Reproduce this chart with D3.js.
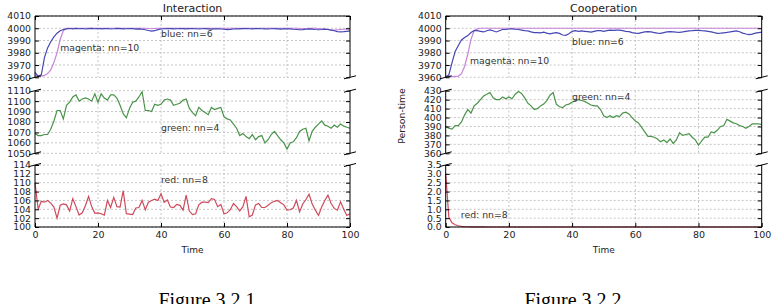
<!DOCTYPE html>
<html>
<head>
<meta charset="utf-8">
<script src="https://cdn.jsdelivr.net/npm/d3@7"></script>
<style>
  body { margin: 0; background: #fff; }
  text { font-family: "DejaVu Sans", sans-serif; }
</style>
</head>
<body>
<div id="chart"></div>
<script>
// time steps (x axis)
const timeSteps = d3.range(0, 101);
const xTicks = [0, 20, 40, 60, 80, 100];

// y ticks for each stacked subplot
const topTicks = [3960, 3970, 3980, 3990, 4000, 4010];
const intMidTicks = [1050, 1060, 1070, 1080, 1090, 1100, 1110];
const intBotTicks = [100, 102, 104, 106, 108, 110, 112, 114];
const coopMidTicks = [360, 370, 380, 390, 400, 410, 420, 430];
const coopBotTicks = [0, 0.5, 1, 1.5, 2, 2.5, 3, 3.5];

// Interaction series
const intBlue = [3964, 3961, 3962, 3976, 3984, 3989, 3993, 3996, 3998, 3999, 3999.5,
  3999.8, 3999.5, 3999.9, 3999.6, 3999.8, 3999.4, 3999.7, 3999.9, 3999.6, 3999.8,
  3999.5, 3999.7, 3999.8, 3999.4, 3999.6, 3999.9, 3999.7, 3999.5, 3999.6, 3999.8,
  3999.7, 3999.3, 3999.5, 3999.2, 3998.8, 3998.2, 3997.6, 3998, 3998.9, 3999.4,
  3999.6, 3999.8, 3999.7, 3999.5, 3999.6, 3999.8, 3999.7, 3999.5, 3999.7, 3999.8,
  3999.6, 3999.4, 3999.6, 3999.7, 3999.5, 3999.3, 3999.5, 3999.6, 3999.4, 3999.2,
  3998.9, 3999.1, 3999.4, 3999.6, 3999.5, 3999.7, 3999.8, 3999.6, 3999.5, 3999.7,
  3999.8, 3999.6, 3999.5, 3999.4, 3999.6, 3999.7, 3999.5, 3999.3, 3999.5, 3999.6,
  3999.5, 3999.2, 3999, 3998.8, 3998.9, 3999.2, 3999.5, 3999.3, 3999, 3998.8,
  3999, 3999.3, 3999, 3998.5, 3998, 3997.3, 3997, 3997.2, 3997.5, 3997.8];
const intMagenta = [3962, 3961, 3961, 3961.5, 3963, 3966, 3972, 3980, 3991, 3998, 4000,
  4000, 4000, 4000, 4000, 4000, 4000, 4000, 4000, 4000, 4000,
  4000, 4000, 4000, 4000, 4000, 4000, 4000, 4000, 4000, 4000,
  4000, 4000, 4000, 4000, 4000, 3999.8, 3999.6, 3999.8, 4000, 4000,
  4000, 4000, 4000, 4000, 4000, 4000, 4000, 4000, 4000, 4000,
  4000, 4000, 4000, 4000, 4000, 4000, 4000, 4000, 4000, 4000,
  4000, 4000, 4000, 4000, 4000, 4000, 4000, 4000, 4000, 4000,
  4000, 4000, 4000, 4000, 4000, 4000, 4000, 4000, 4000, 4000,
  4000, 4000, 4000, 3999.8, 3999.6, 3999.8, 4000, 4000, 4000, 3999.8,
  3999.6, 3999.3, 3999, 3998.6, 3998.5, 3998.8, 3999, 3999.2, 3999.4, 3999.6];
const intGreen = [1069, 1067, 1067, 1068, 1068, 1073, 1081, 1091, 1091, 1083, 1096,
  1099, 1104, 1106, 1100, 1102, 1103, 1102, 1100, 1107, 1099,
  1107, 1103, 1101, 1106, 1106, 1103, 1096, 1088, 1084, 1093,
  1099, 1100, 1104, 1109, 1091, 1091, 1090, 1097, 1096, 1097,
  1101, 1102, 1101, 1096, 1097, 1098, 1101, 1102, 1093, 1089,
  1086, 1094, 1091, 1089, 1087, 1094, 1092, 1093, 1094, 1085,
  1083, 1082, 1078, 1074, 1067, 1069, 1066, 1064, 1068, 1063,
  1066, 1067, 1060, 1063, 1068, 1071, 1067, 1063, 1060, 1054,
  1060, 1061, 1065, 1071, 1073, 1074, 1062, 1071, 1075, 1078,
  1081, 1077, 1076, 1074, 1077, 1075, 1078, 1076, 1075, 1074];
const intRed = [110, 104, 105.8, 105.6, 106, 105.4, 104.5, 102, 104.9, 105.2, 105,
  103.6, 106.4, 104.6, 102.7, 103.2, 104.8, 106.9, 104.6, 103.1, 103.2,
  103, 102.7, 106, 104.4, 106.7, 104.6, 104.5, 108.2, 103, 102.9,
  102.8, 104.3, 104.4, 106, 103.9, 105.6, 106, 106.3, 106, 107.5,
  105.6, 106.1, 104.5, 104.4, 105.1, 104.9, 103.8, 107.2, 103.6, 102.8,
  103, 105, 105.6, 105.6, 105.5, 106.4, 106.2, 104.6, 105.1, 103,
  103.2, 103.9, 105.3, 104.6, 103.6, 104.6, 106.9, 102.3, 102.7, 105,
  105.3, 104.4, 104.4, 104.9, 105.5, 105.8, 106, 105.5, 105, 103.8,
  103.9, 104.3, 106, 103.4, 105.2, 106.2, 107.4, 105.2, 103.8, 102.6,
  104.5, 106, 107.2, 105.3, 104.2, 103.8, 105.7, 104, 102.6, 103];

// Cooperation series
const coopBlue = [3960, 3962, 3972, 3981, 3986, 3990.5, 3992.5, 3994, 3996.5, 3998, 3998,
  3997.5, 3997, 3998, 3998.6, 3998, 3997, 3998, 3999, 3999, 3999.4,
  3999.5, 3999.2, 3999, 3998.5, 3998, 3997.8, 3997, 3996.5, 3996.5, 3996.3,
  3996.8, 3996, 3995.5, 3996, 3996.5, 3995.8, 3994.5, 3994.2, 3995.5, 3997.5,
  3998, 3997.5, 3997.8, 3997.5, 3997.2, 3996.8, 3997.5, 3998, 3998, 3997.5,
  3998, 3998.5, 3998.2, 3998.5, 3998.5, 3998, 3997.5, 3997.2, 3996.5, 3996,
  3995.9, 3996.5, 3997, 3997.3, 3997, 3996.5, 3996, 3995.9, 3996.5, 3997,
  3997.2, 3997, 3996.8, 3996.7, 3997, 3997.5, 3997.9, 3998, 3998.2, 3998.3,
  3998, 3997.8, 3997.4, 3997, 3996.4, 3995.9, 3996, 3996.3, 3996.6, 3997,
  3997.5, 3997.9, 3997.2, 3996, 3995.3, 3994.8, 3995.2, 3996, 3996.5, 3996.8];
const coopMagenta = [3961, 3960.8, 3960.6, 3960.8, 3961, 3963, 3969, 3979, 3991, 3998, 3999.5,
  4000, 4000, 4000, 4000, 4000, 4000, 4000, 4000, 4000, 4000,
  4000, 4000, 4000, 4000, 4000, 4000, 4000, 4000, 4000, 4000,
  4000, 4000, 4000, 4000, 4000, 4000, 4000, 4000, 4000, 4000,
  4000, 4000, 4000, 4000, 4000, 4000, 4000, 4000, 4000, 4000,
  4000, 4000, 4000, 4000, 4000, 4000, 4000, 4000, 4000, 4000,
  4000, 4000, 4000, 4000, 4000, 4000, 4000, 4000, 4000, 4000,
  4000, 4000, 4000, 4000, 4000, 4000, 4000, 4000, 4000, 4000,
  4000, 4000, 4000, 4000, 4000, 4000, 4000, 4000, 4000, 4000,
  4000, 4000, 4000, 4000, 4000, 4000, 4000, 4000, 4000, 4000];
const coopGreen = [390, 388, 387, 391, 391, 395, 403, 409, 405, 413, 416,
  420, 424, 426, 428, 422, 420, 420, 423, 421, 423,
  421, 426, 429, 427, 422, 416, 413, 409, 410, 413,
  415, 419, 425, 428, 415, 412, 411, 414, 415, 417,
  419, 420, 419, 418, 416, 414, 413, 413, 409, 402,
  400, 402, 400, 402, 401, 405, 406, 404, 400, 396,
  394, 389, 384, 379, 379, 378, 376, 373, 375, 372,
  376, 371, 375, 383, 380, 381, 382, 378, 375, 369,
  374, 378, 378, 384, 383, 386, 390, 391, 398, 396,
  394, 393, 391, 390, 388, 390, 393, 393, 393, 392];
const coopRed = [3.0, 0.55, 0.24, 0.13, 0.07, 0.04, 0.025, 0.015, 0.01, 0.01, 0.01,
  0.005, 0.005, 0, 0, 0, 0, 0, 0, 0, 0,
  0, 0, 0, 0, 0, 0, 0, 0, 0, 0,
  0, 0, 0, 0, 0, 0, 0, 0, 0, 0,
  0, 0, 0, 0, 0, 0, 0, 0, 0, 0,
  0, 0, 0, 0, 0, 0, 0, 0, 0, 0,
  0, 0, 0, 0, 0, 0, 0, 0, 0, 0,
  0, 0, 0, 0, 0, 0, 0, 0, 0, 0,
  0, 0, 0, 0, 0, 0, 0, 0, 0, 0,
  0, 0, 0, 0, 0, 0, 0, 0, 0, 0];

const figures = [
  {title: "Interaction", caption: "Figure 3.2.1", x0: 35, x1: 350, captionX: 207, ylabel: null,
   subplots: [
     {ticks: topTicks, fmt: d3.format("d"), series: [
       {values: intMagenta, color: "#c784d8", name: "magenta: nn=10", at: [8, 3981.5]},
       {values: intBlue, color: "#4646b4", name: "blue: nn=6", at: [40, 3992.5]}]},
     {ticks: intMidTicks, fmt: d3.format("d"), series: [
       {values: intGreen, color: "#4a934a", name: "green: nn=4", at: [40, 1071.7]}]},
     {ticks: intBotTicks, fmt: d3.format("d"), series: [
       {values: intRed, color: "#cf4a5c", name: "red: nn=8", at: [40, 109.9]}]}
   ]},
  {title: "Cooperation", caption: "Figure 3.2.2", x0: 445.7, x1: 761.7, captionX: 573, ylabel: "Person-time",
   subplots: [
     {ticks: topTicks, fmt: d3.format("d"), series: [
       {values: coopMagenta, color: "#c784d8", name: "magenta: nn=10", at: [7.7, 3971]},
       {values: coopBlue, color: "#4646b4", name: "blue: nn=6", at: [40, 3986.4]}]},
     {ticks: coopMidTicks, fmt: d3.format("d"), series: [
       {values: coopGreen, color: "#4a934a", name: "green: nn=4", at: [40, 419.6]}]},
     {ticks: coopBotTicks, fmt: d3.format(".1f"), series: [
       {values: coopRed, color: "#cf4a5c", name: "red: nn=8", at: [4.8, 0.52]}]}
   ]}
];

// vertical bands of the three stacked subplots
const rows = [{top: 16, bottom: 77.3}, {top: 90.7, bottom: 153.3}, {top: 165, bottom: 227}];

const svg = d3.select("#chart")
  .append("svg")
  .attr("width", 777)
  .attr("height", 304);

function drawFigure(fig) {
  const x = d3.scaleLinear().domain([0, 100]).range([fig.x0, fig.x1]);

  fig.subplots.forEach((sp, i) => {
    const r = rows[i];
    const y = d3.scaleLinear()
      .domain([sp.ticks[0], sp.ticks[sp.ticks.length - 1]])
      .range([r.bottom, r.top]);
    const g = svg.append("g");

    // dashed grid
    g.selectAll(".hgrid").data(sp.ticks).join("line")
      .attr("x1", fig.x0).attr("x2", fig.x1)
      .attr("y1", d => y(d)).attr("y2", d => y(d))
      .attr("stroke", "#b8b8b8").attr("stroke-width", 0.8).attr("stroke-dasharray", "2,2");
    g.selectAll(".vgrid").data(xTicks.slice(1, -1)).join("line")
      .attr("x1", d => x(d)).attr("x2", d => x(d))
      .attr("y1", r.top).attr("y2", r.bottom)
      .attr("stroke", "#b8b8b8").attr("stroke-width", 0.8).attr("stroke-dasharray", "2,2");

    // series lines + inline labels
    sp.series.forEach(s => {
      g.append("path")
        .datum(s.values)
        .attr("fill", "none")
        .attr("stroke", s.color)
        .attr("stroke-width", 1.2)
        .attr("d", d3.line().x((d, j) => x(timeSteps[j])).y(d => y(d)));
      g.append("text")
        .attr("x", x(s.at[0]))
        .attr("y", y(s.at[1]))
        .attr("font-size", "9.3px")
        .attr("fill", "#333")
        .text(s.name);
    });

    // y axes, ticks pointing in
    g.append("g")
      .attr("transform", `translate(${fig.x0},0)`)
      .call(d3.axisLeft(y).tickValues(sp.ticks).tickSize(-4).tickPadding(4).tickFormat(sp.fmt))
      .call(a => a.select(".domain").remove())
      .call(a => a.selectAll("text").attr("font-size", "9.3px").attr("fill", "#222").attr("font-family", "DejaVu Sans"));
    g.append("g")
      .attr("transform", `translate(${fig.x1},0)`)
      .call(d3.axisRight(y).tickValues(sp.ticks).tickSize(-4).tickFormat(""))
      .call(a => a.select(".domain").remove());

    // spines
    const sp_lines = [[fig.x0, r.top, fig.x0, r.bottom], [fig.x1, r.top, fig.x1, r.bottom]];
    if (i === 0) sp_lines.push([fig.x0, r.top, fig.x1, r.top]);
    if (i === 2) sp_lines.push([fig.x0, r.bottom, fig.x1, r.bottom]);
    g.selectAll(".spine").data(sp_lines).join("line")
      .attr("x1", d => d[0]).attr("y1", d => d[1]).attr("x2", d => d[2]).attr("y2", d => d[3])
      .attr("stroke", "#000").attr("stroke-width", 1);

    // break marks where the axis is cut
    const cuts = [];
    if (i < 2) cuts.push(r.bottom);
    if (i > 0) cuts.push(r.top);
    cuts.forEach(cy => {
      [fig.x0, fig.x1].forEach(cx => {
        g.append("line")
          .attr("x1", cx - 6).attr("y1", cy + 1.5)
          .attr("x2", cx + 6).attr("y2", cy - 1.5)
          .attr("stroke", "#000").attr("stroke-width", 1);
      });
    });

    // x ticks on top of first subplot and bottom of last
    if (i === 0) {
      g.append("g")
        .attr("transform", `translate(0,${r.top})`)
        .call(d3.axisTop(x).tickValues(xTicks).tickSize(-4).tickFormat(""))
        .call(a => a.select(".domain").remove());
    }
    if (i === 2) {
      g.append("g")
        .attr("transform", `translate(0,${r.bottom})`)
        .call(d3.axisBottom(x).tickValues(xTicks).tickSize(-4).tickPadding(4))
        .call(a => a.select(".domain").remove())
        .call(a => a.selectAll("text").attr("font-size", "9.5px").attr("fill", "#222").attr("font-family", "DejaVu Sans"));
    }
  });

  const cx = (fig.x0 + fig.x1) / 2;

  // title
  svg.append("text")
    .attr("x", cx).attr("y", 12)
    .attr("text-anchor", "middle")
    .attr("font-size", "11px")
    .attr("fill", "#222")
    .text(fig.title);

  // x label
  svg.append("text")
    .attr("x", cx).attr("y", 252.5)
    .attr("text-anchor", "middle")
    .attr("font-size", "9px")
    .attr("fill", "#222")
    .text("Time");

  // y label
  if (fig.ylabel) {
    svg.append("text")
      .attr("transform", `translate(405,116) rotate(-90)`)
      .attr("text-anchor", "middle")
      .attr("font-size", "9.3px")
      .attr("fill", "#222")
      .text(fig.ylabel);
  }

  // figure caption (cut by bottom edge, as in the source)
  svg.append("text")
    .attr("x", fig.captionX).attr("y", 307)
    .attr("text-anchor", "middle")
    .style("font-family", "'Liberation Serif', 'Times New Roman', serif")
    .attr("font-size", "20px")
    .attr("fill", "#000")
    .text(fig.caption);
}

figures.forEach(drawFigure);
</script>
</body>
</html>
